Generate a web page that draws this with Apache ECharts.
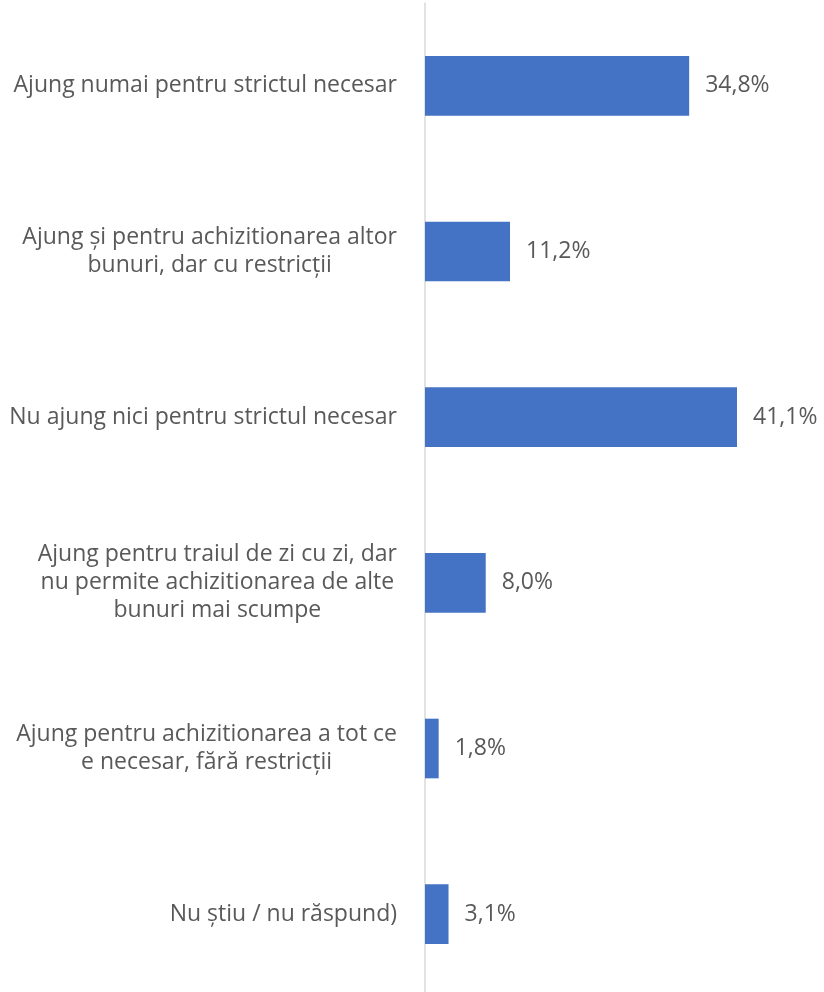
<!DOCTYPE html>
<html lang="ro">
<head>
    <meta charset="UTF-8">
    <title>Venituri</title>
    <script src="https://cdn.jsdelivr.net/npm/echarts@6/dist/echarts.min.js"></script>
    <style>
        html, body { margin: 0; padding: 0; background: #ffffff; }
        #chart { width: 824px; height: 992px; }
    </style>
</head>
<body>
    <div id="chart"></div>
    <script>
        // categorii (de sus in jos) si procente
        let categories = [
            'Ajung numai pentru strictul necesar',
            'Ajung și pentru achizitionarea altor\nbunuri, dar cu restricții',
            'Nu ajung nici pentru strictul necesar',
            'Ajung pentru traiul de zi cu zi, dar\nnu permite achizitionarea de alte\nbunuri mai scumpe',
            'Ajung pentru achizitionarea a tot ce\ne necesar, fără restricții',
            'Nu știu / nu răspund)'
        ];
        let values = [34.8, 11.2, 41.1, 8.0, 1.8, 3.1];

        let font = '"Open Sans", sans-serif';
        let labelSize = 23;

        // etichete centrate pe randuri, dar cu marginea dreapta lipita de axa:
        // align center + padding la dreapta egal cu latimea textului
        let ctx = document.createElement('canvas').getContext('2d');
        ctx.font = labelSize + 'px ' + font;
        let axisData = categories.map(function (cat) {
            let maxW = Math.max.apply(null, cat.split('\n').map(function (s) { return ctx.measureText(s).width; }));
            return { value: cat, textStyle: { align: 'center', padding: [0, maxW, 0, 0] } };
        });

        let option = {
            backgroundColor: '#ffffff',
            animation: false,
            grid: { left: 425, top: 3, width: 341.6, height: 994, outerBoundsMode: 'none', containLabel: false },
            xAxis: {
                type: 'value',
                min: 0,
                max: 45,
                show: false
            },
            yAxis: {
                type: 'category',
                inverse: true,
                data: axisData,
                axisLine: { show: true, lineStyle: { color: '#d9d9d9', width: 1.5 } },
                axisTick: { show: false },
                axisLabel: {
                    margin: 28,
                    align: 'center',
                    color: '#595959',
                    fontFamily: font,
                    fontSize: labelSize,
                    lineHeight: 28
                }
            },
            series: [{
                type: 'bar',
                data: values,
                barWidth: '36%',
                itemStyle: { color: '#4472c4' },
                label: {
                    show: true,
                    position: 'right',
                    distance: 16,
                    color: '#595959',
                    fontFamily: font,
                    fontSize: 23,
                    formatter: function (p) { return p.value.toFixed(1).replace('.', ',') + '%'; }
                }
            }]
        };

        let chart = echarts.init(document.getElementById('chart'));
        chart.setOption(option);
    </script>
</body>
</html>
